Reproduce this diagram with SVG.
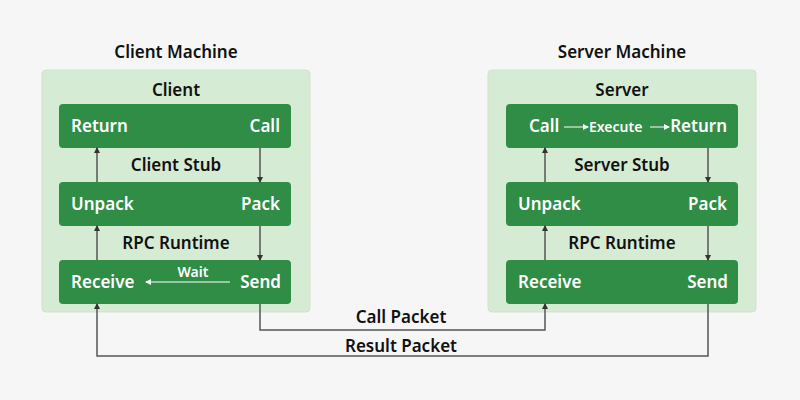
<svg xmlns="http://www.w3.org/2000/svg" width="800" height="400" viewBox="0 0 800 400">
<style>
.panel{fill:#d6ebd3;stroke:#cfe3cb;stroke-width:1}
.box{fill:#2f8d46}
.t{font-family:"Noto Sans","Open Sans",sans-serif;font-weight:600;font-size:17px;fill:#111}
.w{font-family:"Noto Sans","Open Sans",sans-serif;font-weight:600;font-size:17px;fill:#fff}
.ws{font-family:"Noto Sans","Open Sans",sans-serif;font-weight:600;font-size:14px;fill:#fff}
.c{fill:none;stroke:#555;stroke-width:1.5}
.cw{fill:none;stroke:#fff;stroke-width:1}
</style>
<defs>
<marker id="a" markerWidth="6" markerHeight="6" refX="5" refY="3" orient="auto" markerUnits="userSpaceOnUse"><path d="M0,0 L6,3 L0,6z" fill="#333"/></marker>
<marker id="aw" markerWidth="6" markerHeight="6" refX="5" refY="3" orient="auto" markerUnits="userSpaceOnUse"><path d="M0,0 L6,3 L0,6z" fill="#fff"/></marker>
</defs>
<rect width="800" height="400" fill="#f6f6f6"/>
<g id="client-machine">
<text class="t" x="176" y="58" text-anchor="middle">Client Machine</text>
<rect class="panel" x="42" y="70" width="268" height="242" rx="4"/>
<text class="t" x="176" y="96" text-anchor="middle">Client</text>
<text class="t" x="176" y="171" text-anchor="middle">Client Stub</text>
<text class="t" x="176" y="249" text-anchor="middle">RPC Runtime</text>
</g>
<g id="client-top"><rect class="box" x="59" y="104" width="232" height="44" rx="4"/>
<text class="w" x="71" y="132">Return</text><text class="w" x="280" y="132" text-anchor="end">Call</text></g>
<g id="client-mid"><rect class="box" x="59" y="182" width="232" height="44" rx="4"/>
<text class="w" x="71" y="210">Unpack</text><text class="w" x="280" y="210" text-anchor="end">Pack</text></g>
<g id="client-bot"><rect class="box" x="59" y="260" width="232" height="44" rx="4"/>
<text class="w" x="71" y="288">Receive</text><text class="w" x="281" y="288" text-anchor="end">Send</text>
<text class="ws" x="193" y="277" text-anchor="middle">Wait</text>
<path class="cw" d="M230,282 H146" marker-end="url(#aw)"/></g>
<g id="server-machine">
<text class="t" x="622" y="58" text-anchor="middle">Server Machine</text>
<rect class="panel" x="488" y="70" width="268" height="242" rx="4"/>
<text class="t" x="622" y="96" text-anchor="middle">Server</text>
<text class="t" x="622" y="171" text-anchor="middle">Server Stub</text>
<text class="t" x="622" y="249" text-anchor="middle">RPC Runtime</text>
</g>
<g id="server-top"><rect class="box" x="506" y="104" width="232" height="44" rx="4"/>
<text class="w" x="529" y="132">Call</text>
<text class="ws" x="589" y="132">Execute</text>
<text class="w" x="727" y="132" text-anchor="end">Return</text>
<path class="cw" d="M564,127 H588" marker-end="url(#aw)"/>
<path class="cw" d="M650,127 H669" marker-end="url(#aw)"/></g>
<g id="server-mid"><rect class="box" x="506" y="182" width="232" height="44" rx="4"/>
<text class="w" x="518" y="210">Unpack</text><text class="w" x="727" y="210" text-anchor="end">Pack</text></g>
<g id="server-bot"><rect class="box" x="506" y="260" width="232" height="44" rx="4"/>
<text class="w" x="518" y="288">Receive</text><text class="w" x="728" y="288" text-anchor="end">Send</text></g>
<g id="connectors">
<path class="c" d="M260,148 V182" marker-end="url(#a)"/>
<path class="c" d="M260,226 V260" marker-end="url(#a)"/>
<path class="c" d="M97,182 V148" marker-end="url(#a)"/>
<path class="c" d="M97,260 V226" marker-end="url(#a)"/>
<path class="c" d="M708,148 V182" marker-end="url(#a)"/>
<path class="c" d="M708,226 V260" marker-end="url(#a)"/>
<path class="c" d="M545,182 V148" marker-end="url(#a)"/>
<path class="c" d="M545,260 V226" marker-end="url(#a)"/>
<path class="c" d="M260,304 V330 H545 V304" marker-end="url(#a)"/>
<path class="c" d="M708,304 V356 H97 V304" marker-end="url(#a)"/>
<text class="t" x="401" y="323" text-anchor="middle">Call Packet</text>
<text class="t" x="401" y="352" text-anchor="middle">Result Packet</text>
</g>
</svg>
